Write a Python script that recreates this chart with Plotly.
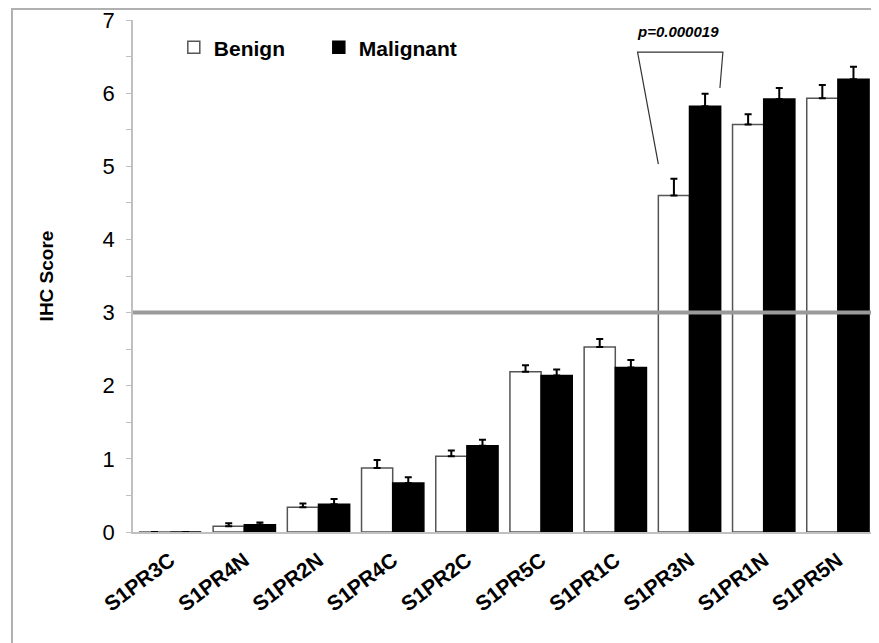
import plotly.graph_objects as go

categories = ["S1PR3C", "S1PR4N", "S1PR2N", "S1PR4C", "S1PR2C",
              "S1PR5C", "S1PR1C", "S1PR3N", "S1PR1N", "S1PR5N"]
benign = [0.0, 0.08, 0.34, 0.875, 1.035, 2.19, 2.53, 4.60, 5.57, 5.93]
benign_err = [0.0, 0.04, 0.05, 0.11, 0.08, 0.09, 0.11, 0.23, 0.14, 0.18]
malignant = [0.0, 0.10, 0.38, 0.67, 1.18, 2.14, 2.25, 5.82, 5.92, 6.19]
malignant_err = [0.0, 0.03, 0.07, 0.08, 0.08, 0.08, 0.10, 0.17, 0.15, 0.17]
threshold = 3
p_label = "p=0.000019"
p_category = "S1PR3N"
y_ticks = [0, 1, 2, 3, 4, 5, 6, 7]

FONT = "Liberation Sans, Arial, sans-serif"
GRAY = "#9a9a9a"

fig = go.Figure()
fig.add_trace(go.Bar(
    name="<b>Benign</b>", x=categories, y=benign,
    marker=dict(color="white", line=dict(color="#555555", width=1.5)),
    error_y=dict(type="data", array=benign_err, symmetric=False,
                 arrayminus=[0] * len(benign_err), color="black",
                 thickness=2, width=3.5),
))
fig.add_trace(go.Bar(
    name="<b>Malignant</b>", x=categories, y=malignant,
    marker=dict(color="black", line=dict(color="black", width=1.5)),
    error_y=dict(type="data", array=malignant_err, symmetric=False,
                 arrayminus=[0] * len(malignant_err), color="black",
                 thickness=2, width=3.5),
))

# threshold line
fig.add_shape(type="line", xref="paper", yref="y", x0=0, x1=1.03,
              y0=threshold, y1=threshold,
              line=dict(color=GRAY, width=4), layer="above")

# outer frame
fig.add_shape(type="rect", xref="paper", yref="paper",
              x0=-0.1631, x1=1.2, y0=-0.4, y1=1.0215,
              line=dict(color="#b0b0b0", width=2), layer="below")

# significance bracket
i = categories.index(p_category)
b_top = benign[i] + benign_err[i]
m_top = malignant[i] + malignant_err[i]
top = 6.56
path = (f"M {i - 0.42} {b_top + 0.2} L {i - 0.70} {top} "
        f"L {i + 0.45} {top} L {i + 0.41} {m_top + 0.08}")
fig.add_shape(type="path", xref="x", yref="y", path=path,
              line=dict(color="#333333", width=1.2))
fig.add_annotation(x=i - 0.15, y=6.84, xref="x", yref="y",
                   text=f"<b><i>{p_label}</i></b>", showarrow=False,
                   font=dict(family=FONT, size=15, color="black"))

fig.update_layout(
    width=871, height=635,
    margin=dict(l=125, r=4, t=12, b=111, autoexpand=False),
    plot_bgcolor="white", paper_bgcolor="white",
    barmode="group", bargap=0.16, bargroupgap=0,
    font=dict(family=FONT, color="black"),
    showlegend=True,
    legend=dict(orientation="h", x=0.055, y=0.946, xanchor="left",
                yanchor="middle", bgcolor="rgba(0,0,0,0)",
                font=dict(family=FONT, size=21, color="black"),
                entrywidth=100, itemwidth=30, traceorder="normal"),
    xaxis=dict(
        type="category", showline=True, linecolor="#c0c0c0", linewidth=2,
        ticks="", tickangle=-37, automargin=False, ticklabelstandoff=6,
        tickfont=dict(family=FONT, size=21, color="black", weight="bold"),
        showgrid=False, zeroline=False,
    ),
    yaxis=dict(
        range=[0, 7], tickvals=y_ticks, showline=True, linecolor="#c0c0c0",
        linewidth=1.5, ticks="outside", ticklen=5, tickcolor="#c0c0c0",
        tickfont=dict(family=FONT, size=22, color="black"),
        ticklabelstandoff=7, automargin=False, ticklabeloverflow="allow",
        minor=dict(dtick=0.5, ticks="outside", ticklen=5,
                   tickcolor="#c0c0c0", showgrid=False),
        showgrid=False, zeroline=False,
        title=dict(text="<b>IHC Score</b>", standoff=44,
                   font=dict(family=FONT, size=19, color="black")),
    ),
)

fig.write_html("out.html")
